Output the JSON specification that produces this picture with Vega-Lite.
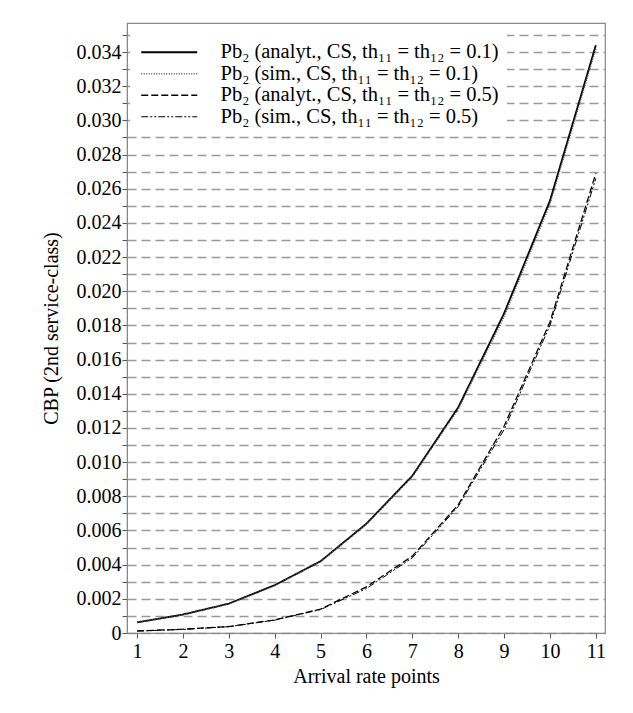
{
  "$schema": "https://vega.github.io/schema/vega-lite/v6.json",
  "width": 478,
  "height": 610,
  "autosize": {"type": "none"},
  "padding": {"left": 127, "top": 23, "right": 28, "bottom": 80},
  "background": "white",
  "config": {
    "view": {"stroke": "#888", "strokeWidth": 1.2},
    "font": "Liberation Serif, Times New Roman, DejaVu Serif, serif",
    "axis": {"labelFont": "Liberation Serif, Times New Roman, DejaVu Serif, serif", "titleFont": "Liberation Serif, Times New Roman, DejaVu Serif, serif"},
    "legend": {"labelFont": "Liberation Serif, Times New Roman, DejaVu Serif, serif"}
  },
  "data": {
    "values": [
      {"x": 1, "s": "A", "y": 0.00062},
      {"x": 2, "s": "A", "y": 0.00108},
      {"x": 3, "s": "A", "y": 0.00172},
      {"x": 4, "s": "A", "y": 0.0028},
      {"x": 5, "s": "A", "y": 0.0042},
      {"x": 6, "s": "A", "y": 0.0064},
      {"x": 7, "s": "A", "y": 0.0092},
      {"x": 8, "s": "A", "y": 0.0132},
      {"x": 9, "s": "A", "y": 0.0187},
      {"x": 10, "s": "A", "y": 0.0253},
      {"x": 11, "s": "A", "y": 0.0344},
      {"x": 1, "s": "B", "y": 0.00061},
      {"x": 2, "s": "B", "y": 0.00107},
      {"x": 3, "s": "B", "y": 0.0017},
      {"x": 4, "s": "B", "y": 0.00278},
      {"x": 5, "s": "B", "y": 0.00418},
      {"x": 6, "s": "B", "y": 0.00636},
      {"x": 7, "s": "B", "y": 0.00915},
      {"x": 8, "s": "B", "y": 0.0131},
      {"x": 9, "s": "B", "y": 0.0185},
      {"x": 10, "s": "B", "y": 0.0251},
      {"x": 11, "s": "B", "y": 0.0342},
      {"x": 1, "s": "C", "y": 0.00012},
      {"x": 2, "s": "C", "y": 0.00022},
      {"x": 3, "s": "C", "y": 0.00038},
      {"x": 4, "s": "C", "y": 0.00077},
      {"x": 5, "s": "C", "y": 0.0014},
      {"x": 6, "s": "C", "y": 0.0027},
      {"x": 7, "s": "C", "y": 0.0045},
      {"x": 8, "s": "C", "y": 0.0075},
      {"x": 9, "s": "C", "y": 0.0121},
      {"x": 10, "s": "C", "y": 0.0182},
      {"x": 11, "s": "C", "y": 0.0269},
      {"x": 1, "s": "D", "y": 0.00011},
      {"x": 2, "s": "D", "y": 0.00021},
      {"x": 3, "s": "D", "y": 0.00037},
      {"x": 4, "s": "D", "y": 0.00075},
      {"x": 5, "s": "D", "y": 0.00137},
      {"x": 6, "s": "D", "y": 0.0026},
      {"x": 7, "s": "D", "y": 0.0044},
      {"x": 8, "s": "D", "y": 0.0074},
      {"x": 9, "s": "D", "y": 0.0119},
      {"x": 10, "s": "D", "y": 0.018},
      {"x": 11, "s": "D", "y": 0.0266}
    ]
  },
  "mark": {"type": "line", "clip": true},
  "encoding": {
    "x": {
      "field": "x",
      "type": "quantitative",
      "scale": {"domain": [0.78, 11.2], "nice": false, "zero": false},
      "axis": {
        "values": [1, 2, 3, 4, 5, 6, 7, 8, 9, 10, 11],
        "title": "Arrival rate points",
        "grid": false,
        "labelFontSize": 20,
        "titleFontSize": 20,
        "titleFontWeight": "normal",
        "labelColor": "black",
        "titleColor": "black",
        "tickColor": "#555",
        "domainColor": "#888",
        "tickSize": 5,
        "labelPadding": 3,
        "titlePadding": 5,
        "labelFlush": false
      }
    },
    "y": {
      "field": "y",
      "type": "quantitative",
      "scale": {"domain": [0, 0.0357], "nice": false},
      "axis": {
        "values": [0, 0.001, 0.002, 0.003, 0.004, 0.005, 0.006, 0.007, 0.008, 0.009, 0.01, 0.011, 0.012, 0.013, 0.014, 0.015, 0.016, 0.017, 0.018, 0.019, 0.02, 0.021, 0.022, 0.023, 0.024, 0.025, 0.026, 0.027, 0.028, 0.029, 0.03, 0.031, 0.032, 0.033, 0.034, 0.035],
        "labelExpr": "datum.value == 0 ? '0' : (round(datum.value * 1000) % 2 == 0 ? format(datum.value, '.3f') : '')",
        "title": "CBP (2nd service-class)",
        "grid": true,
        "gridDash": [9, 5],
        "gridColor": "#9a9a9a",
        "gridWidth": 1.5,
        "labelFontSize": 20,
        "titleFontSize": 20,
        "titleFontWeight": "normal",
        "labelColor": "black",
        "titleColor": "black",
        "tickColor": "#555",
        "domainColor": "#888",
        "tickSize": 5,
        "labelPadding": 1,
        "titlePadding": 15,
        "labelFlush": false,
        "labelOverlap": false
      }
    },
    "color": {
      "field": "s",
      "type": "nominal",
      "scale": {"domain": ["A", "B", "C", "D"], "range": ["black", "#555", "black", "black"]},
      "legend": {
        "title": null,
        "orient": "none",
        "legendX": 3,
        "legendY": 11,
        "fillColor": "white",
        "padding": 8,
        "labelFontSize": 20.5,
        "labelColor": "black",
        "labelLimit": 0,
        "labelOffset": 62,
        "rowPadding": 0.5,
        "symbolType": "M-1,0H7",
        "symbolSize": 196,
        "symbolStrokeWidth": 1.8,
        "labelExpr": "datum.label == 'A' ? 'Pb₂ (analyt., CS, th₁₁ = th₁₂ = 0.1)' : datum.label == 'B' ? 'Pb₂ (sim., CS, th₁₁ = th₁₂ = 0.1)' : datum.label == 'C' ? 'Pb₂ (analyt., CS, th₁₁ = th₁₂ = 0.5)' : 'Pb₂ (sim., CS, th₁₁ = th₁₂ = 0.5)'"
      }
    },
    "strokeDash": {
      "field": "s",
      "type": "nominal",
      "scale": {"domain": ["A", "B", "C", "D"], "range": [[1, 0], [1, 1.5], [7, 3], [7, 2, 2, 2, 2, 2]]},
      "legend": {
        "title": null,
        "orient": "none",
        "legendX": 3,
        "legendY": 11,
        "fillColor": "white",
        "padding": 8,
        "labelFontSize": 20.5,
        "labelColor": "black",
        "labelLimit": 0,
        "labelOffset": 62,
        "rowPadding": 0.5,
        "symbolType": "M-1,0H7",
        "symbolSize": 196,
        "symbolStrokeWidth": 1.8,
        "labelExpr": "datum.label == 'A' ? 'Pb₂ (analyt., CS, th₁₁ = th₁₂ = 0.1)' : datum.label == 'B' ? 'Pb₂ (sim., CS, th₁₁ = th₁₂ = 0.1)' : datum.label == 'C' ? 'Pb₂ (analyt., CS, th₁₁ = th₁₂ = 0.5)' : 'Pb₂ (sim., CS, th₁₁ = th₁₂ = 0.5)'"
      }
    },
    "strokeWidth": {
      "field": "s",
      "type": "ordinal",
      "scale": {"domain": ["A", "B", "C", "D"], "range": [1.8, 1, 2, 1.6]},
      "legend": null
    }
  }
}
